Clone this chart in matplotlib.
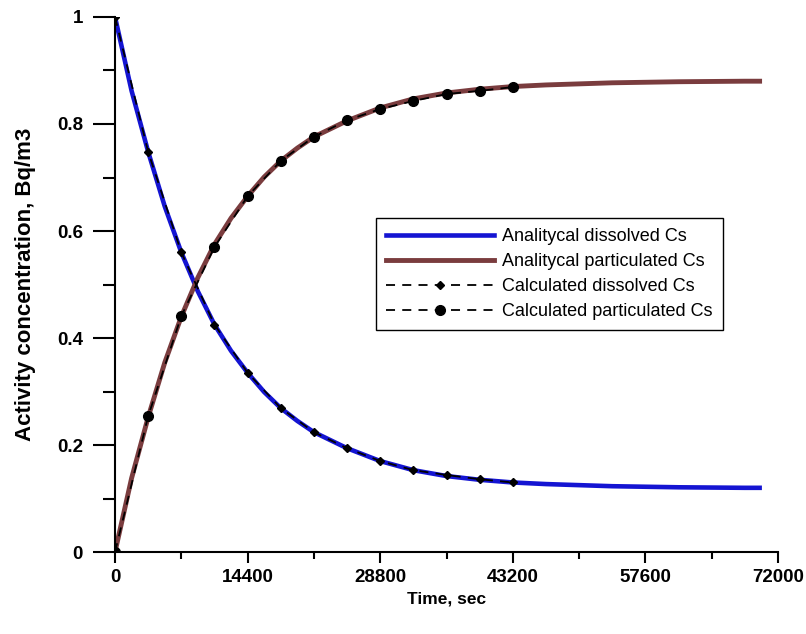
import matplotlib
matplotlib.use("Agg")
import matplotlib.pyplot as plt
from matplotlib.ticker import MultipleLocator

plt.rcParams['font.family'] = ['Liberation Sans', 'DejaVu Sans']

# analytical solution
t_line = [0, 1800, 3600, 5400, 7200, 9000, 10800, 12600, 14400, 16200, 18000,
          19800, 21600, 25200, 28800, 32400, 36000, 39600, 43200, 46800,
          50400, 54000, 57600, 61200, 64800, 68400, 70000]
dissolved_line = [1.0, 0.862, 0.748, 0.646, 0.560, 0.487, 0.425, 0.376, 0.335,
                  0.299, 0.269, 0.245, 0.224, 0.194, 0.170, 0.153, 0.142,
                  0.135, 0.130, 0.127, 0.125, 0.123, 0.122, 0.121, 0.1205,
                  0.120, 0.120]
particulated_line = [0.0, 0.138, 0.252, 0.354, 0.440, 0.513, 0.575, 0.624,
                     0.665, 0.701, 0.731, 0.755, 0.776, 0.806, 0.830, 0.847,
                     0.858, 0.865, 0.870, 0.873, 0.875, 0.877, 0.878, 0.879,
                     0.8795, 0.880, 0.880]

# calculated values (markers)
t_calc = [0, 3600, 7200, 10800, 14400, 18000, 21600, 25200, 28800, 32400,
          36000, 39600, 43200]
dissolved_calc = [1.0, 0.748, 0.560, 0.425, 0.335, 0.269, 0.224, 0.194,
                  0.170, 0.153, 0.144, 0.136, 0.130]
particulated_calc = [0.0, 0.254, 0.441, 0.570, 0.665, 0.731, 0.776, 0.807,
                     0.828, 0.843, 0.856, 0.862, 0.869]

x_ticks = [0, 14400, 28800, 43200, 57600, 72000]
y_ticks = [0, 0.2, 0.4, 0.6, 0.8, 1]
y_ticklabels = ['0', '0.2', '0.4', '0.6', '0.8', '1']

fig = plt.figure(figsize=(8.06, 6.34), dpi=100)
ax = fig.add_axes([0.1427, 0.1293, 0.8226, 0.8439])

ax.plot(t_line, dissolved_line, color='#1414d2', lw=3.3,
        label='Analitycal dissolved Cs')
ax.plot(t_line, particulated_line, color='#7a3c3e', lw=3.5,
        label='Analitycal particulated Cs')
ax.plot(t_calc, dissolved_calc, color='black', lw=1.3, ls=(0, (5, 4)),
        marker='D', ms=4, label='Calculated dissolved Cs')
ax.plot(t_calc, particulated_calc, color='black', lw=1.3, ls=(0, (5, 4)),
        marker='o', ms=7, label='Calculated particulated Cs')

ax.set_xlim(0, 72000)
ax.set_ylim(0, 1)
ax.set_xticks(x_ticks)
ax.set_yticks(y_ticks)
ax.set_yticklabels(y_ticklabels)
ax.xaxis.set_minor_locator(MultipleLocator(7200))
ax.yaxis.set_minor_locator(MultipleLocator(0.1))

for s in ['top', 'right']:
    ax.spines[s].set_visible(False)
for s in ['left', 'bottom']:
    ax.spines[s].set_linewidth(1.5)

ax.tick_params(which='both', direction='out', width=1.5, labelsize=13.5)
ax.tick_params(axis='y', which='major', length=16, pad=7)
ax.tick_params(axis='y', which='minor', length=8.5)
ax.tick_params(axis='x', which='major', length=8, pad=4)
ax.tick_params(axis='x', which='minor', length=5)
for lab in ax.get_xticklabels() + ax.get_yticklabels():
    lab.set_fontweight('bold')

ax.set_xlabel('Time, sec', fontsize=12.5, fontweight='bold', labelpad=4)
ax.set_ylabel('Activity concentration, Bq/m3', fontsize=16,
              fontweight='bold', labelpad=15)

leg = ax.legend(loc='upper left', bbox_to_anchor=(376 / 806, 1 - 218 / 634),
                bbox_transform=fig.transFigure, fontsize=13,
                handlelength=6.0, handletextpad=0.45, numpoints=1,
                fancybox=False, edgecolor='black', framealpha=1,
                borderpad=0.55, labelspacing=0.45, borderaxespad=0)
leg.get_frame().set_linewidth(1.0)

fig.savefig('out.png', dpi=100)
